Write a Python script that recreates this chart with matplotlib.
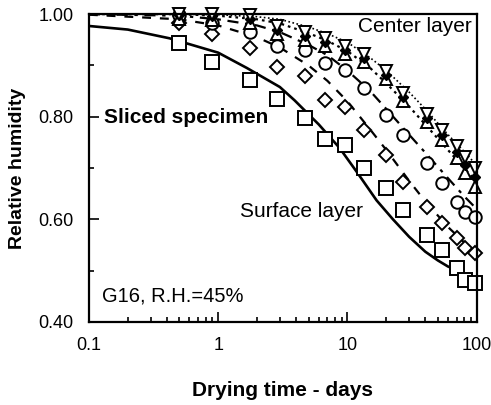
import matplotlib.pyplot as plt
from matplotlib.ticker import FixedLocator, NullFormatter, LogLocator

plt.rcParams['font.family'] = ['Liberation Sans', 'DejaVu Sans']

# drying times of the measurements (days)
days = [0.5, 0.9, 1.75, 2.85, 4.7, 6.7, 9.5, 13.4, 20, 27, 41, 54, 70, 81, 97]

# measured relative humidity, surface layer -> center layer
rh_surface = [0.943, 0.906, 0.871, 0.834, 0.797, 0.756, 0.745, 0.700, 0.661,
              0.618, 0.569, 0.540, 0.505, 0.481, 0.476]
rh_layer2 = [0.982, 0.961, 0.934, 0.897, 0.879, 0.832, 0.819, 0.774, 0.725,
             0.673, 0.624, 0.593, 0.563, 0.544, 0.534]
rh_layer3 = [0.998, 0.982, 0.965, 0.938, 0.930, 0.904, 0.891, 0.856, 0.803,
             0.764, 0.710, 0.671, 0.634, 0.614, 0.604]
rh_layer4 = [0.991, 0.989, 0.982, 0.961, 0.949, 0.937, 0.922, 0.906, 0.873,
             0.830, 0.789, 0.754, 0.719, 0.691, 0.664]
rh_layer5 = [0.998, 0.996, 0.990, 0.969, 0.957, 0.945, 0.930, 0.914, 0.881,
             0.838, 0.797, 0.764, 0.731, 0.706, 0.682]
rh_center = [1.000, 1.000, 0.998, 0.977, 0.965, 0.953, 0.938, 0.922, 0.889,
             0.846, 0.805, 0.774, 0.743, 0.721, 0.700]

# model curves
t_surf = [0.1, 0.2, 0.42, 1, 1.67, 3, 3.9, 6, 8.7, 12, 16.8, 22.5, 30, 40, 50, 60, 68]
m_surf = [0.977, 0.970, 0.953, 0.925, 0.895, 0.858, 0.832, 0.785, 0.739, 0.690,
          0.637, 0.600, 0.566, 0.537, 0.520, 0.508, 0.503]
t_mod = [0.1, 0.5, 1, 2, 3, 5, 7, 10, 15, 20, 30, 40, 60, 80, 100]
m_layer2 = [0.999, 0.990, 0.978, 0.955, 0.935, 0.900, 0.870, 0.830, 0.775,
            0.735, 0.675, 0.635, 0.585, 0.555, 0.535]
m_layer3 = [1.000, 0.997, 0.990, 0.978, 0.965, 0.940, 0.920, 0.890, 0.850,
            0.815, 0.765, 0.730, 0.680, 0.645, 0.620]
m_layer4 = [1.000, 1.000, 0.997, 0.990, 0.982, 0.963, 0.948, 0.928, 0.895,
            0.865, 0.820, 0.785, 0.735, 0.700, 0.672]
m_center = [1.000, 1.000, 0.999, 0.995, 0.990, 0.975, 0.962, 0.945, 0.915,
            0.890, 0.848, 0.815, 0.765, 0.732, 0.705]

fig = plt.figure(figsize=(4.91, 4.05), dpi=100)
ax = fig.add_axes([0.181, 0.205, 0.79, 0.76])

ax.plot(t_surf, m_surf, color='black', lw=1.9)
ax.plot(t_mod, m_layer2, color='black', lw=1.6, dashes=(4, 4))
ax.plot(t_mod, m_layer3, color='black', lw=1.6, dashes=(5, 3, 1.5, 3))
ax.plot(t_mod, m_layer4, color='black', lw=1.6, dashes=(1.2, 1.8))
ax.plot(t_mod, m_center, color='black', lw=1.2, dashes=(1, 1.5))

mk = dict(ls='none', mfc='white', mec='black', mew=1.4, clip_on=False)
ax.plot(days, rh_surface, marker='s', ms=9.5, **mk)
ax.plot(days, rh_layer2, marker='D', ms=7.5, **mk)
ax.plot(days, rh_layer3, marker='o', ms=9, **mk)
ax.plot(days, rh_layer4, marker='^', ms=9, **mk)
ax.plot(days, rh_layer5, ls='none', marker='D', ms=5.5, mfc='black', mec='black',
        clip_on=False)
ax.plot(days, rh_center, marker='v', ms=9, **mk)

ax.set_xscale('log')
ax.set_xlim(0.1, 100)
ax.set_ylim(0.40, 1.00)
ax.set_xticks([0.1, 1, 10, 100])
ax.set_xticklabels(['0.1', '1', '10', '100'])
ax.xaxis.set_minor_locator(LogLocator(base=10, subs=range(2, 10)))
ax.xaxis.set_minor_formatter(NullFormatter())
ax.set_yticks([0.40, 0.60, 0.80, 1.00])
ax.set_yticklabels(['0.40', '0.60', '0.80', '1.00'])
ax.yaxis.set_minor_locator(FixedLocator([0.5, 0.7, 0.9]))

for s in ax.spines.values():
    s.set_linewidth(1.6)
ax.tick_params(which='both', direction='in', top=False, right=False,
               width=1.2, labelsize=13)
ax.tick_params(which='major', length=7)
ax.tick_params(which='minor', length=3.5)
ax.tick_params(axis='y', pad=11)
ax.tick_params(axis='x', pad=11)

ax.set_xlabel('Drying time - days', fontsize=15, fontweight='bold', labelpad=19)
ax.set_ylabel('Relative humidity', fontsize=14, fontweight='bold', labelpad=9)

ax.text(0.695, 0.96, 'Center layer', transform=ax.transAxes, fontsize=15,
        va='center')
ax.text(0.04, 0.665, 'Sliced specimen', transform=ax.transAxes, fontsize=15,
        fontweight='bold', va='center')
ax.text(0.39, 0.36, 'Surface layer', transform=ax.transAxes, fontsize=15,
        va='center')
ax.text(0.035, 0.085, 'G16, R.H.=45%', transform=ax.transAxes, fontsize=14.5,
        va='center')

fig.savefig('out.png', dpi=100)
